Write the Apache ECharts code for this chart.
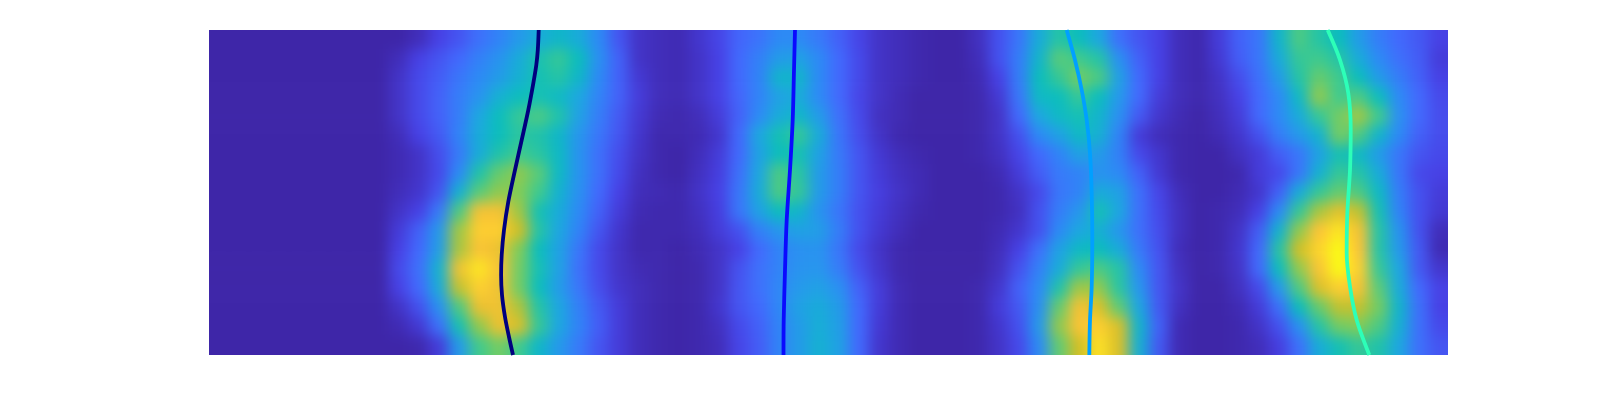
<!DOCTYPE html>
<html><head><meta charset="utf-8">
<script src="https://cdn.jsdelivr.net/npm/echarts@6/dist/echarts.min.js"></script>
<style>
html,body{margin:0;padding:0;background:#fff}
#chart{width:1600px;height:400px}
#chart canvas[data-zr-dom-id="zr_0"]{filter:blur(7px);clip-path:inset(30px 152px 45px 209px)}
</style></head><body><div id="chart"></div>
<script>
const heatRow00=[0,0,0,0,0,0,0,0,0,0,.03,.1,.15,.22,.28,.35,.42,.47,.42,.3,.15,.05,.03,.02,.06,.11,.19,.23,.3,.3,.25,.18,.11,.05,.03,.01,0,0,.04,.14,.24,.42,.55,.5,.4,.22,.15,.1,.03,.01,.08,.18,.24,.46,.62,.55,.5,.36,.26,.2,.16,.1];
const heatRow01=[0,0,0,0,0,0,0,0,0,.03,.1,.15,.2,.27,.33,.42,.53,.58,.5,.32,.18,.05,.03,.02,.05,.1,.2,.27,.36,.38,.3,.2,.12,.05,.03,.01,0,0,.03,.14,.26,.46,.64,.6,.55,.32,.18,.1,.03,.01,.07,.17,.24,.42,.58,.6,.55,.42,.3,.22,.17,.08];
const heatRow02=[0,0,0,0,0,0,0,0,0,.05,.12,.17,.24,.3,.36,.44,.52,.55,.47,.3,.18,.07,.03,.02,.05,.1,.2,.28,.46,.46,.3,.2,.12,.05,.03,.01,0,0,.02,.1,.26,.5,.58,.68,.62,.38,.2,.1,.03,.01,.05,.13,.22,.36,.55,.66,.6,.5,.36,.26,.18,.1];
const heatRow03=[0,0,0,0,0,0,0,0,0,.05,.12,.18,.26,.33,.44,.5,.52,.48,.4,.28,.18,.08,.03,.02,.05,.1,.19,.28,.38,.42,.3,.2,.11,.05,.02,0,0,0,.01,.07,.24,.48,.5,.58,.5,.35,.2,.08,.03,.01,.04,.1,.2,.3,.48,.72,.6,.62,.5,.3,.2,.12];
const heatRow04=[0,0,0,0,0,0,0,0,0,.05,.12,.18,.26,.4,.5,.58,.62,.54,.38,.26,.16,.07,.02,.01,.03,.08,.18,.3,.42,.47,.36,.22,.12,.04,.02,0,0,0,.01,.05,.2,.4,.48,.52,.46,.32,.16,.06,.02,0,.03,.08,.2,.3,.42,.58,.68,.74,.6,.32,.2,.13];
const heatRow05=[0,0,0,0,0,0,0,0,0,.03,.1,.16,.28,.42,.5,.56,.54,.47,.34,.24,.15,.06,.01,.01,.02,.06,.2,.4,.52,.58,.42,.24,.13,.05,.01,0,0,0,.01,.05,.14,.3,.38,.48,.44,.28,.08,.03,.01,0,.02,.06,.14,.26,.35,.45,.68,.62,.46,.3,.18,.13];
const heatRow06=[0,0,0,0,0,0,0,0,0,.02,.05,.13,.25,.42,.54,.6,.56,.48,.33,.22,.13,.05,.01,0,.03,.08,.2,.38,.5,.52,.38,.25,.15,.07,.03,.01,0,0,.01,.04,.11,.2,.28,.38,.36,.27,.12,.06,.01,0,0,.04,.08,.17,.24,.38,.52,.48,.36,.24,.15,.12];
const heatRow07=[0,0,0,0,0,0,0,0,0,.02,.05,.12,.3,.54,.66,.72,.64,.48,.33,.22,.12,.04,.01,0,.04,.09,.22,.4,.62,.56,.36,.26,.15,.08,.04,.02,0,0,0,.02,.08,.17,.25,.28,.33,.3,.18,.07,.01,0,0,.01,.08,.12,.24,.44,.58,.55,.42,.24,.12,.1];
const heatRow08=[0,0,0,0,0,0,0,0,0,.03,.06,.15,.44,.64,.72,.7,.6,.45,.32,.2,.1,.03,.02,.01,.05,.1,.24,.42,.62,.58,.36,.26,.15,.09,.05,.02,0,0,0,.01,.05,.12,.24,.28,.42,.38,.22,.11,.03,0,0,.02,.06,.18,.42,.58,.66,.62,.48,.26,.14,.08];
const heatRow09=[0,0,0,0,0,0,0,0,0,.05,.1,.25,.62,.88,.88,.74,.52,.42,.3,.18,.08,.02,.01,.01,.04,.09,.24,.38,.5,.46,.33,.24,.14,.08,.04,.01,0,0,0,.01,.04,.14,.26,.34,.52,.4,.22,.12,.04,0,.01,.03,.1,.3,.58,.75,.84,.78,.52,.28,.14,.07];
const heatRow10=[0,0,0,0,0,0,0,0,0,.08,.18,.35,.74,.92,.92,.8,.55,.4,.28,.15,.06,.01,.01,.01,.03,.08,.14,.27,.34,.38,.37,.26,.14,.07,.03,0,0,0,0,.02,.06,.14,.3,.4,.44,.34,.22,.13,.04,0,.01,.05,.17,.45,.72,.9,.96,.88,.55,.33,.14,.03];
const heatRow11=[0,0,0,0,0,0,0,0,0,.1,.2,.37,.75,.89,.86,.7,.5,.38,.24,.12,.05,.01,.01,0,.02,.05,.1,.2,.28,.32,.33,.24,.12,.05,.01,0,0,0,0,.03,.1,.22,.38,.48,.5,.42,.25,.14,.03,0,.01,.06,.2,.55,.8,.93,1,.9,.55,.35,.16,.02];
const heatRow12=[0,0,0,0,0,0,0,0,0,.12,.22,.45,.87,.96,.89,.68,.52,.38,.22,.12,.05,.02,.01,0,.01,.05,.14,.22,.28,.33,.34,.26,.14,.06,.01,0,0,0,0,.04,.14,.27,.42,.58,.62,.55,.3,.15,.04,0,.01,.05,.2,.5,.72,.89,1,.92,.58,.4,.16,.06];
const heatRow13=[0,0,0,0,0,0,0,0,0,.1,.2,.42,.78,.92,.87,.68,.5,.36,.24,.13,.06,.03,.01,0,.01,.05,.15,.22,.29,.35,.38,.32,.18,.08,.02,0,0,0,.01,.06,.18,.3,.54,.74,.72,.56,.34,.15,.05,0,0,.04,.12,.35,.62,.82,.92,.88,.64,.42,.2,.1];
const heatRow14=[0,0,0,0,0,0,0,0,0,.05,.14,.32,.62,.86,.87,.76,.55,.4,.27,.16,.08,.03,.01,0,.01,.06,.15,.2,.29,.38,.42,.36,.2,.08,.02,0,0,0,.01,.08,.16,.32,.66,.88,.82,.65,.4,.16,.04,0,0,.02,.08,.22,.5,.66,.78,.78,.68,.46,.22,.1];
const heatRow15=[0,0,0,0,0,0,0,0,0,.02,.07,.22,.52,.72,.86,.82,.58,.4,.28,.17,.08,.03,.01,0,.01,.04,.12,.18,.28,.36,.43,.37,.2,.07,.02,0,0,0,.01,.06,.14,.35,.72,.89,.92,.82,.46,.18,.02,0,0,.01,.05,.14,.32,.55,.68,.7,.62,.44,.22,.12];
const heatRow16=[0,0,0,0,0,0,0,0,0,0,.01,.08,.35,.6,.68,.6,.47,.35,.25,.15,.08,.03,.01,0,.01,.03,.11,.17,.28,.36,.44,.38,.2,.06,.02,0,0,0,.01,.05,.12,.3,.65,.8,.95,.82,.44,.16,.02,0,0,.01,.03,.09,.22,.42,.52,.58,.54,.4,.22,.15];
const heatRows=[heatRow00,heatRow01,heatRow02,heatRow03,heatRow04,heatRow05,heatRow06,heatRow07,heatRow08,heatRow09,heatRow10,heatRow11,heatRow12,heatRow13,heatRow14,heatRow15,heatRow16];

const curveOneX=[329.7,328.8,327.3,324.3,319.3,312.7,306,299.3,295,292.7,292.1,293,296,300,304];
const curveOneY=[0,20,35,53.3,80,110,140,171.7,200,225,245,265,287,307,325];
const curveTwoX=[586,585,583.7,581,577.7,576,574.7,574.5];
const curveTwoY=[0,40,90,140,190,240,290,325];
const curveThreeX=[857.7,866,872.7,877.7,881,882.7,883.3,882.7,881,880.3];
const curveThreeY=[0,30,60,90,123.3,163.3,206.7,256.7,290,325];
const curveFourX=[1118.7,1131,1139.3,1141.7,1141,1138.3,1137.7,1141,1147.7,1160.3];
const curveFourY=[0,30,63.3,100,140,183.3,223.3,256.7,290,325];
const curveColors=['#00007f','#0a0aff','#00a0ff','#2dffb8'];
const parula=['#3E26A8','#4741E5','#4269FD','#2D8AF5','#1DA7E0','#0BBDBD','#3FCA8E','#80CC59','#D1BF27','#FEC338','#F9FB15'];

const nR=heatRows.length,nC=heatRows[0].length,cw=20,ch=325/17;
const xCats=[],yCats=[],cells=[];
for(let c=-1;c<=nC;c++)xCats.push(String(c));
for(let r=-1;r<=nR;r++)yCats.push(String(r));
for(let r=-1;r<=nR;r++)for(let c=-1;c<=nC;c++){
  const rr=Math.min(nR-1,Math.max(0,r)),cc=Math.min(nC-1,Math.max(0,c));
  cells.push([c+1,r+1,heatRows[rr][cc]]);
}
const zip=(a,b)=>a.map((v,i)=>[v,b[i]]);
const curves=[[curveOneX,curveOneY],[curveTwoX,curveTwoY],[curveThreeX,curveThreeY],[curveFourX,curveFourY]];
const hidden={show:false};
const chart=echarts.init(document.getElementById('chart'),null,{renderer:'canvas'});
chart.setOption({
  animation:false,
  grid:{left:209-cw,top:30-ch,width:nC*cw+2*cw,height:325+2*ch,containLabel:false,show:false},
  tooltip:{show:false},
  xAxis:[
    {type:'category',data:xCats,show:false,boundaryGap:true},
    {type:'value',min:-cw,max:nC*cw+cw,show:false,splitLine:hidden}
  ],
  yAxis:[
    {type:'category',data:yCats,inverse:true,show:false,boundaryGap:true},
    {type:'value',min:-ch,max:325+ch,inverse:true,show:false,splitLine:hidden}
  ],
  visualMap:{show:false,seriesIndex:0,min:0,max:1,dimension:2,inRange:{color:parula}},
  series:[
    {type:'heatmap',xAxisIndex:0,yAxisIndex:0,data:cells,zlevel:0,progressive:0,itemStyle:{borderWidth:0},emphasis:{disabled:true}},
    ...curves.map((c,i)=>({type:'line',xAxisIndex:1,yAxisIndex:1,zlevel:1,data:zip(c[0],c[1]),smooth:0.3,showSymbol:false,symbol:'none',clip:false,lineStyle:{color:curveColors[i],width:3.8},emphasis:{disabled:true}}))
  ]
});
</script></body></html>
